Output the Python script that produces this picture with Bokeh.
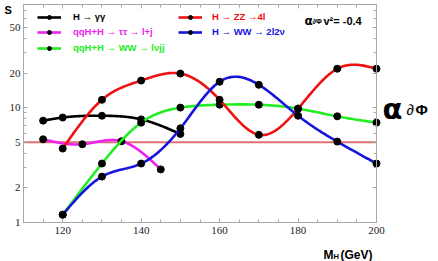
import numpy as np
from bokeh.plotting import figure
from bokeh.models import (Range1d, LogAxis, LinearAxis, FixedTicker, Label,
                          Legend, LegendItem, BasicTickFormatter, CustomJSTickFormatter)
from bokeh.embed import file_html
from bokeh.resources import INLINE

# ---------------- data ----------------
x_ticks = [120, 140, 160, 180, 200]
x_minor = [110, 115, 125, 130, 135, 145, 150, 155, 165, 170, 175, 185, 190, 195]
y_ticks = [1, 2, 5, 10, 20, 50]
y_minor = [3, 4, 6, 7, 8, 9, 30, 40, 60, 70]

gg_mass = [115, 120, 130, 140, 150]
gg_sig = [7.7, 8.2, 8.5, 7.9, 5.9]

tt_mass = [115, 125, 135, 145]
tt_sig = [5.3, 4.8, 5.1, 2.9]

lvjj_mass = [120, 130, 140, 150, 160, 170, 180, 190, 200]
lvjj_sig = [1.17, 3.26, 7.4, 10.0, 10.6, 10.6, 9.8, 8.4, 7.4]

zz_mass = [120, 130, 140, 150, 160, 170, 180, 190, 200]
zz_sig = [4.4, 11.7, 17.2, 19.8, 11.7, 5.8, 9.8, 21.8, 21.8]

ww_mass = [120, 130, 140, 150, 160, 170, 180, 190, 200]
ww_sig = [1.17, 2.51, 3.26, 6.6, 16.8, 15.8, 8.5, 5.06, 3.26]

threshold = 5

labels = ["H \u2192 \u03b3\u03b3", "qqH+H \u2192 \u03c4\u03c4 \u2192 l+j", "qqH+H \u2192 WW \u2192 l\u03bdjj",
          "H \u2192 ZZ \u21924l", "H \u2192 WW \u2192 2l2\u03bd"]
colors = ["#000000", "#ee22ee", "#22ee22", "#ee1111", "#1515dd"]

# ---------------- helpers ----------------
def smooth(xs, ys, n=240):
    """natural cubic spline through the points (in log10 space) for drawing"""
    x = np.asarray(xs, float)
    y = np.log10(np.asarray(ys, float))
    k = len(x)
    h = np.diff(x)
    A = np.zeros((k, k)); b = np.zeros(k)
    A[0, 0] = 1; A[-1, -1] = 1
    for i in range(1, k - 1):
        A[i, i - 1] = h[i - 1]; A[i, i] = 2 * (h[i - 1] + h[i]); A[i, i + 1] = h[i]
        b[i] = 3 * ((y[i + 1] - y[i]) / h[i] - (y[i] - y[i - 1]) / h[i - 1])
    c = np.linalg.solve(A, b)
    bc = (y[1:] - y[:-1]) / h - h * (2 * c[:-1] + c[1:]) / 3
    dc = (c[1:] - c[:-1]) / (3 * h)
    xx = np.linspace(x[0], x[-1], n)
    idx = np.clip(np.searchsorted(x, xx) - 1, 0, k - 2)
    dx = xx - x[idx]
    yy = y[idx] + bc[idx] * dx + c[idx] * dx ** 2 + dc[idx] * dx ** 3
    return xx, 10 ** yy

# ---------------- geometry ----------------
W, H = 438, 261
FL, FR, FT, FB = 23, 376, 4, 222     # plot box edges in picture px
X0, X1, Y0, Y1 = 110, 200, 1, 79     # axis limits
PXW = (FR - FL) / (X1 - X0)
DEC = (FB - FT) / np.log10(Y1 / Y0)
# the frame covers the whole canvas; the visible box is drawn by fixed-location axes
xs0, xs1 = X0 - FL / PXW, X0 + (W - FL) / PXW
ys0, ys1 = Y0 * 10 ** ((FB - H) / DEC), Y0 * 10 ** (FB / DEC)

p = figure(width=W, height=H, output_backend="svg", toolbar_location=None,
           x_range=Range1d(xs0, xs1), y_range=Range1d(ys0, ys1), y_axis_type="log",
           min_border=0)
p.title.visible = False
p.xgrid.visible = False
p.ygrid.visible = False
p.outline_line_color = None
p.background_fill_color = "white"
p.border_fill_color = "white"

axcol = "#a8a8a8"
xt = FixedTicker(ticks=x_ticks, minor_ticks=x_minor)
yt = FixedTicker(ticks=y_ticks, minor_ticks=y_minor)

def style(ax, show):
    ax.axis_line_color = axcol
    ax.major_tick_line_color = axcol
    ax.minor_tick_line_color = axcol
    ax.major_tick_in = 4
    ax.major_tick_out = 0
    ax.minor_tick_in = 3
    ax.minor_tick_out = 0
    if show:
        ax.major_label_text_font = "Liberation Serif"
        ax.major_label_text_font_size = "11px"
        ax.major_label_text_color = "#222222"
    else:
        ax.formatter = CustomJSTickFormatter(code="return ''")
        ax.major_label_standoff = 0

bx = p.xaxis[0]
bx.ticker = xt
bx.fixed_location = Y0
bx.bounds = (X0, X1)
style(bx, True)
bx.major_label_standoff = 4

ly_ = p.yaxis[0]
ly_.ticker = yt
ly_.formatter = BasicTickFormatter()
ly_.fixed_location = X0
ly_.bounds = (Y0, Y1)
style(ly_, True)
ly_.major_label_standoff = 3

top = LinearAxis(ticker=xt, fixed_location=Y1, bounds=(X0, X1))
style(top, False)
p.add_layout(top, "above")
right = LogAxis(ticker=yt, fixed_location=X1, bounds=(Y0, Y1))
style(right, False)
p.add_layout(right, "right")

p.segment(x0=X0, x1=X1, y0=threshold, y1=threshold, line_color="#e07070", line_width=2)

series = [(gg_mass, gg_sig), (tt_mass, tt_sig), (lvjj_mass, lvjj_sig),
          (zz_mass, zz_sig), (ww_mass, ww_sig)]
rends = []
for (mx, sy), col in zip(series, colors):
    sx_, sy_ = smooth(mx, sy)
    lr = p.line(sx_, sy_, line_color=col, line_width=2.6)
    dr = p.scatter(mx, sy, size=7, fill_color="black", line_color="black")
    rends.append((lr, dr))

# legends (one per entry, to colour each text like its line); screen px = picture px
leg_pos = [(37, 17, 12), (37, 32, 12), (37, 48, 12), (178, 17, 10), (178, 32, 10)]
for (lr, dr), lab, col, (lx, ly, so) in zip(rends, labels, colors, leg_pos):
    leg = Legend(items=[LegendItem(label=lab, renderers=[lr, dr])],
                 location=(lx, H - ly - 5), padding=0, margin=0, spacing=0,
                 glyph_width=24, glyph_height=10, label_height=10, label_standoff=so,
                 label_text_font="Liberation Sans", label_text_font_style="bold",
                 label_text_font_size="9.5px", label_text_color=col,
                 background_fill_alpha=0, border_line_alpha=0)
    p.add_layout(leg)

def lab(text, px, py, size, base="alphabetic", style="bold", font="Liberation Sans"):
    p.add_layout(Label(x=px, y=H - py, x_units="screen", y_units="screen", text=text,
                       text_font=font, text_font_style=style,
                       text_font_size=size, text_color="black", text_baseline=base))

lab("S", 4, 3, "11px", base="top")
lab("\u03b1", 304, 20, "12px", font="DejaVu Sans")
lab("\u2202\u03a6", 312, 21, "7px")
lab("v\u00b2= -0.4", 323, 20, "11px")
lab("\u03b1", 382, 108, "29px", font="DejaVu Sans")
lab("\u2202", 406, 109, "15px", style="italic")
lab("\u03a6", 415, 109, "15px")
lab("M", 323, 254, "12px")
lab("H", 333, 256, "7.5px")
lab("(GeV)", 340, 254, "12px")

open("out.html", "w").write(file_html(p, INLINE))
